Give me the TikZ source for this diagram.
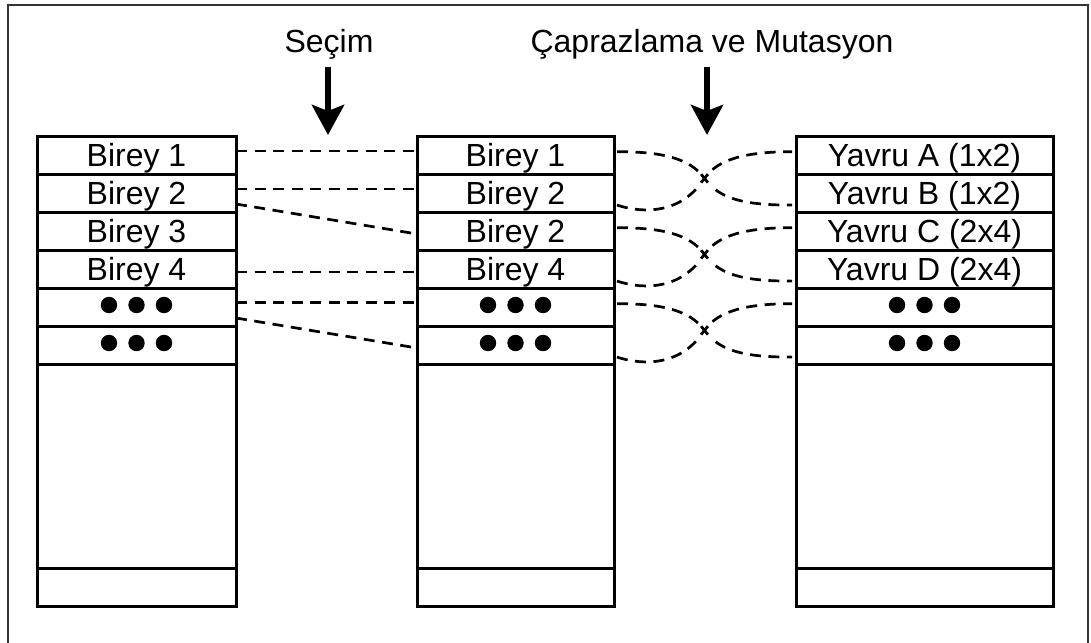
\documentclass[tikz,border=0pt]{standalone}
\usepackage{fontspec}
\setmainfont{Liberation Sans}
\usetikzlibrary{arrows.meta,calc}

\begin{document}
\begin{tikzpicture}[x=0.5pt,y=-0.5pt,
  lbl/.style={font=\fontsize{16pt}{19pt}\selectfont,inner sep=0pt},
  cell/.style={draw,line width=1.5pt,minimum height=19pt,inner sep=0pt,outer sep=0pt,
    text height=12pt,text depth=0.8pt,font=\fontsize{16pt}{19pt}\selectfont},
  colL/.style={cell,minimum width=99.5pt},
  colM/.style={cell,minimum width=98.5pt},
  colR/.style={cell,minimum width=128.5pt},
  link/.style={line width=1.35pt,dash pattern=on 5.5pt off 3.75pt},
  bigarrow/.style={line width=3.3pt,-{Stealth[length=15pt,width=16pt,inset=3pt]}},
  dotmark/.style={fill=black}
]
\useasboundingbox (0,0) rectangle (1091,642);
\clip (0,0) rectangle (1091,642);

% frame around the figure (its lower edge runs off the page)
\draw[line width=1pt,black!80] (7.5,5.5) rectangle (1088,700);

% --- population columns ---
\foreach \i/\t in {1/Birey 1,2/Birey 2,3/Birey 3,4/Birey 4,5/,6/}
  \node[colL] (L\i) at (136.5,117.5+38*\i) {\t};
\node[colL,minimum height=101.75pt] (L7) at (136.5,466.25) {};
\node[colL] (L8) at (136.5,587) {};

\foreach \i/\t in {1/Birey 1,2/Birey 2,3/Birey 2,4/Birey 4,5/,6/}
  \node[colM] (M\i) at (515.5,117.5+38*\i) {\t};
\node[colM,minimum height=101.75pt] (M7) at (515.5,466.25) {};
\node[colM] (M8) at (515.5,587) {};

\foreach \i/\t in {1/Yavru A (1x2),2/Yavru B (1x2),3/Yavru C (2x4),4/Yavru D (2x4),5/,6/}
  \node[colR] (R\i) at (924.5,117.5+38*\i) {\t};
\node[colR,minimum height=101.75pt] (R7) at (924.5,466.25) {};
\node[colR] (R8) at (924.5,587) {};

% ellipsis dots in the open rows
\foreach \n in {L5,L6,M5,M6,R5,R6}
  \foreach \k in {-1,0,1}
    \fill[dotmark] ([xshift=\k*13.75pt,yshift=1.25pt]\n.center) circle[radius=4.1pt];

% --- selection links ---
\draw[link] ([yshift=2.25pt]L1.east) -- ([yshift=2.25pt]M1.west);
\draw[link] ([yshift=2.25pt]L2.east) -- ([yshift=2.25pt]M2.west);
\draw[link] ([yshift=-5.25pt]L2.east) -- ([yshift=-1.25pt]M3.west);
\draw[link] ([yshift=-1.25pt]L4.east) -- ([yshift=-1.25pt]M4.west);
\draw[link] ([yshift=2.4pt]L5.east) -- ([yshift=2.4pt]M5.west);
\draw[link] ([yshift=-5.25pt]L5.east) -- ([yshift=-1.25pt]M6.west);

% --- crossover links ---
\foreach \a/\b in {1/2,3/4,5/6}{
  \coordinate (s\a) at ([xshift=1.5pt,yshift=1.9pt]M\a.east);
  \coordinate (s\b) at ([xshift=1.5pt,yshift=-5.8pt]M\b.east);
  \coordinate (e\a) at ([xshift=-2pt,yshift=1.9pt]R\a.west);
  \coordinate (e\b) at ([xshift=-2pt,yshift=-5.8pt]R\b.west);
  \coordinate (x\a) at ($(s\a)!0.5!(e\b)$);
  \draw[link] (s\a) .. controls +(43,0) and +(-15,-21) .. (x\a)
                    .. controls +(15,21) and +(-47,0) .. (e\b);
  \draw[link] (s\b) .. controls +(28,9) and +(-23,35) .. (x\a)
                    .. controls +(13,-19) and +(-47,0) .. (e\a);
  \fill[white] (x\a) circle[radius=4.5pt];
  \draw[line width=1.4pt] ([xshift=-1.7pt,yshift=2.1pt]x\a) -- ([xshift=1.7pt,yshift=-2.1pt]x\a);
  \draw[line width=1.4pt] ([xshift=1.7pt,yshift=2.1pt]x\a) -- ([xshift=-1.7pt,yshift=-2.1pt]x\a);
}

% --- step labels and arrows ---
\node[lbl,anchor=base] (sec) at (329,53) {Seçim};
\coordinate (secTop) at (328,66.7);
\coordinate (secTip) at (328,135);
\draw[bigarrow] (secTop) -- (secTip);

\node[lbl,anchor=base] (cap) at (712,53) {Çaprazlama ve Mutasyon};
\coordinate (capTop) at (707,66.7);
\coordinate (capTip) at (707,135);
\draw[bigarrow] (capTop) -- (capTip);
\end{tikzpicture}
\end{document}
